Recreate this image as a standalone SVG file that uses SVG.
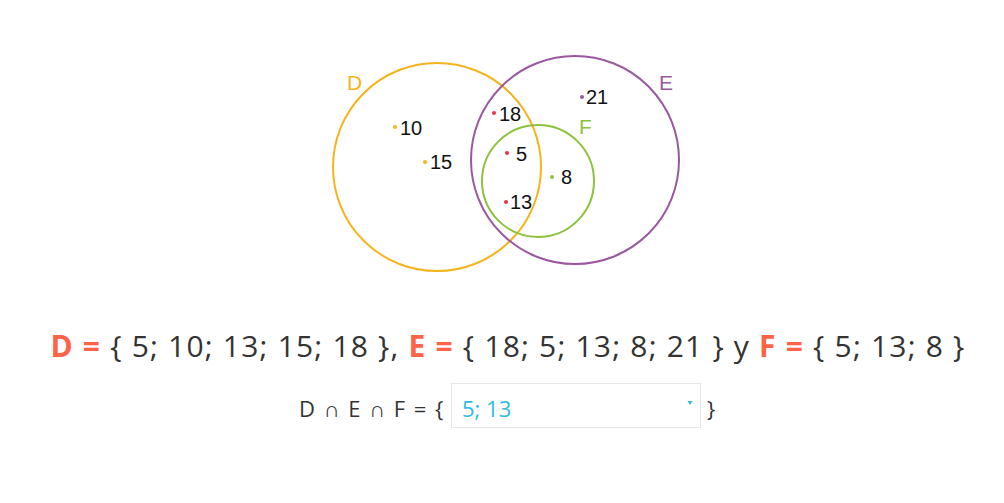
<svg xmlns="http://www.w3.org/2000/svg" width="1004" height="503" viewBox="0 0 1004 503">
<style>
.c{fill:none;stroke-width:2}
.lbl{font-family:"Liberation Sans",Arial,sans-serif;font-size:21px}
.num{font-family:"Liberation Sans",Arial,sans-serif;font-size:20px;fill:#111}
.eq{font-family:"Open Sans",sans-serif;font-size:30px;fill:#333;letter-spacing:1.2px}
.b{font-weight:bold;fill:#ff6347}
.eq2{font-family:"Open Sans",sans-serif;font-size:22px;fill:#333;letter-spacing:1.5px}
</style>
<rect width="1004" height="503" fill="#fff"/>
<g id="circleD"><circle class="c" cx="437" cy="167" r="104" stroke="#f5b31c"/><text class="lbl" x="347" y="90" fill="#f5b31c">D</text></g>
<g id="circleE"><circle class="c" cx="575" cy="160" r="104" stroke="#9b58a0"/><text class="lbl" x="659" y="90" fill="#9b58a0">E</text></g>
<g id="circleF"><circle class="c" cx="538" cy="181" r="56" stroke="#8cc23c"/><text class="lbl" x="579" y="134" fill="#8cc23c">F</text></g>
<g id="n10"><circle cx="395" cy="127" r="2" fill="#f5b31c"/><text class="num" x="400" y="135">10</text></g>
<g id="n15"><circle cx="425" cy="162" r="2" fill="#f5b31c"/><text class="num" x="430" y="169">15</text></g>
<g id="n18"><circle cx="494" cy="113" r="2" fill="#e8334a"/><text class="num" x="499" y="121">18</text></g>
<g id="n5"><circle cx="507" cy="153" r="2" fill="#e8334a"/><text class="num" x="516" y="161">5</text></g>
<g id="n13"><circle cx="506" cy="202" r="2" fill="#e8334a"/><text class="num" x="510" y="209">13</text></g>
<g id="n8"><circle cx="552" cy="177" r="2" fill="#8cc23c"/><text class="num" x="561" y="184">8</text></g>
<g id="n21"><circle cx="582" cy="97" r="2" fill="#9b58a0"/><text class="num" x="586" y="104">21</text></g>
<g id="connectors"></g>
<g id="sets"><text class="eq" x="508" y="357" text-anchor="middle"><tspan class="b">D =</tspan> { 5; 10; 13; 15; 18 }, <tspan class="b">E =</tspan> { 18; 5; 13; 8; 21 } y <tspan class="b">F =</tspan> { 5; 13; 8 }</text></g>
<g id="answer">
<text class="eq2" x="299" y="417">D ∩ E ∩ F = {</text>
<rect x="451.5" y="383.5" width="249" height="44" fill="#fff" stroke="#e6e6e6"/>
<text x="462" y="417" font-family="Open Sans,sans-serif" font-size="22" fill="#2bbce0">5; 13</text>
<path d="M687.5 401 L692.5 401 L690 405 Z" fill="#2bbce0"/>
<text class="eq2" x="707" y="417">}</text>
</g>
</svg>
